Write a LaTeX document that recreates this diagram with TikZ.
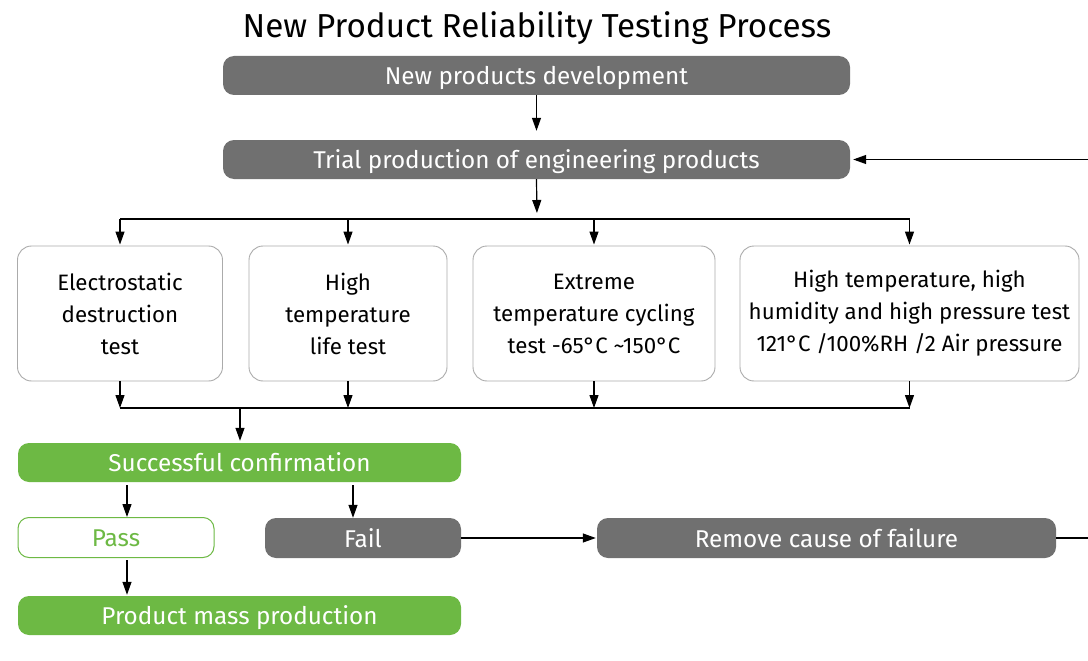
\documentclass[tikz,border=0pt]{standalone}
\usepackage{fontspec}
\setmainfont{Fira Sans}
\usetikzlibrary{arrows.meta}
\definecolor{boxgray}{HTML}{707070}
\definecolor{okgreen}{HTML}{6DB944}
\definecolor{testedge}{HTML}{ABABAB}
\tikzset{
  base/.style={rectangle, rounded corners=11pt, inner sep=0pt, align=center},
  oneline/.style={base, font=\fontsize{24.3}{28}\selectfont, text height=18.6pt, text depth=0pt},
  graybox/.style={oneline, fill=boxgray, text=white, minimum height=39pt},
  greenbox/.style={oneline, fill=okgreen, text=white, minimum height=39pt},
  passbox/.style={oneline, fill=white, draw=okgreen, line width=1pt, text=okgreen, minimum height=40pt},
  testbox/.style={base, font=\fontsize{22.3}{32}\selectfont, fill=white, draw=testedge,
    line width=0.9pt, rounded corners=14pt, text=black, minimum height=135pt},
  link/.style={line width=1.2pt, draw=black},
  arr/.style={link, -{Triangle[length=13pt,width=9pt]}},
}
\begin{document}
\begin{tikzpicture}[x=1pt,y=-1pt]
\clip (0,0) rectangle (1088,661);
\fill[white] (0,0) rectangle (1088,661);

\node[font=\fontsize{33.2}{36}\selectfont] (title) at (537,28) {New Product Reliability Testing Process};

% main chain
\node[graybox, minimum width=627pt] (dev) at (536.5,75.5) {New products development};
\node[graybox, minimum width=627pt] (trial) at (536.5,159.5) {Trial production of engineering products};

% the four tests
\node[testbox, minimum width=205pt] (esd) at (120,313.5) {Electrostatic\\destruction\\test};
\node[testbox, minimum width=198pt] (htl) at (348,313.5) {High\\temperature\\life test};
\node[testbox, minimum width=242pt] (cyc) at (594,313.5) {Extreme\\temperature cycling\\test -65°C \textasciitilde150°C};
\node[testbox, minimum width=339pt] (hast) at (909.5,313.5) {High temperature, high\\humidity and high pressure test\\121°C /100\%RH /2 Air pressure};

% outcome
\node[greenbox, minimum width=443pt] (succ) at (239.5,462.5) {Successful confirmation};
\node[passbox, minimum width=196pt] (pass) at (116,537.5) {Pass};
\node[graybox, minimum width=196pt, minimum height=40pt] (fail) at (363,538) {Fail};
\node[graybox, minimum width=459pt, minimum height=40pt] (fix) at (826.5,538) {Remove cause of failure};
\node[greenbox, minimum width=443pt] (mass) at (239.5,615.5) {Product mass production};

% junction points
\coordinate (split) at (537,219);
\coordinate (splitL) at (120,219);
\coordinate (splitR) at (910,219);
\coordinate (join) at (240,408);
\coordinate (joinL) at (120,408);
\coordinate (joinR) at (910,408);
\coordinate (loopT) at (1100,159.5);

\draw[arr, shorten >=9pt] (dev.south) -- (trial.north);
\draw[arr, shorten >=6pt] (trial.south) -- (split);
\draw[link] (splitL) -- (splitR);
\foreach \t in {esd,htl,cyc,hast}{
  \draw[arr, shorten >=1pt] (split -| \t.north) -- (\t.north);
  \draw[arr] (\t.south) -- (join -| \t.south);
}
\draw[link] (joinL) -- (joinR);
\draw[arr, shorten >=2pt] (join) -- (join |- succ.north);

\draw[arr] ([xshift=11pt,yshift=-3pt]pass.north |- succ.south) -- ([xshift=11pt]pass.north);
\draw[arr] ([xshift=-10pt,yshift=-3pt]fail.north |- succ.south) -- ([xshift=-10pt]fail.north);
\draw[arr, shorten <=2pt, shorten >=1pt] ([xshift=11pt]pass.south) -- ([xshift=11pt]pass.south |- mass.north);
\draw[arr, shorten >=1pt] (fail.east) -- (fix.west);
\draw[arr, shorten >=3pt] (fix.east) -- (fix.east -| loopT) -- (loopT) -- (trial.east);
\end{tikzpicture}
\end{document}
